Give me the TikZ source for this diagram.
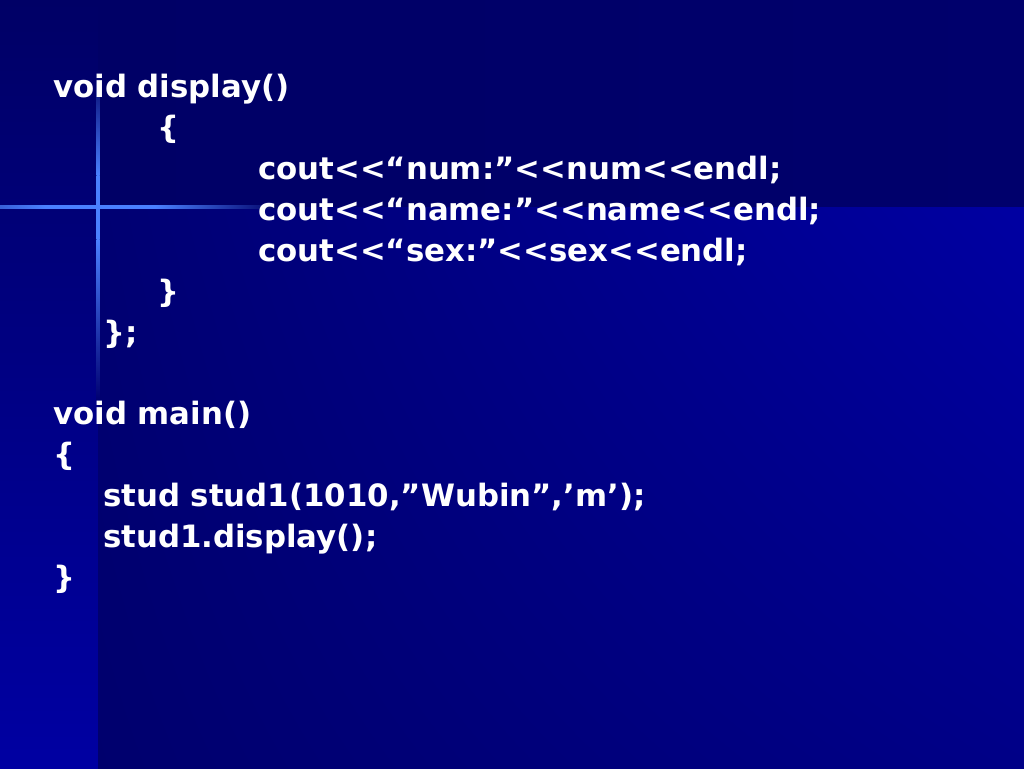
\documentclass[tikz,border=0pt]{standalone}
\usepackage{fontspec}
\newfontfamily\codefont{DejaVu Sans}
\usetikzlibrary{positioning,shadings}
\definecolor{bandnavy}{HTML}{000066}
\definecolor{stripblue}{HTML}{0000A2}
\definecolor{glowblue}{HTML}{4A80FF}
\tikzset{code line/.style={anchor=base west,inner sep=0pt,text=white,font=\codefont\bfseries\fontsize{30.8}{36}\selectfont},}

\begin{document}
\begin{tikzpicture}[x=1pt,y=-1pt]
    \useasboundingbox (0,0) rectangle (1024,768);
    % background panels
    \shade[top color=bandnavy,bottom color=stripblue] (0,0) rectangle (98,768);
    \shade[left color=bandnavy,right color=bandnavy!90!stripblue] (98,0) rectangle (1024,207);
    \shade[upper left=bandnavy!80!stripblue,upper right=stripblue,lower left=bandnavy!88!stripblue,lower right=bandnavy!45!stripblue] (98,207) rectangle (1024,768);
    % glowing cross
    \shade[top color=bandnavy,bottom color=glowblue] (96.5,70) rectangle (99.5,175);
    \shade[top color=glowblue,middle color=white,bottom color=glowblue] (96.5,175) rectangle (99.5,239);
    \shade[top color=glowblue,bottom color=bandnavy!80!stripblue] (96.5,239) rectangle (99.5,400);
    \shade[left color=glowblue!75!bandnavy,right color=glowblue] (0,205.5) rectangle (45,208.5);
    \shade[left color=glowblue,middle color=white,right color=glowblue] (45,205.5) rectangle (155,208.5);
    \shade[left color=glowblue,right color=bandnavy] (155,205.5) rectangle (280,208.5);

    % code
    \node[code line] (l0) at (53,97) {void display()};
    \node[code line] (l1) at (157,138) {\{};
    \node[code line] (l2) at (258,179) {cout<<“num:”<<num<<endl;};
    \node[code line] (l3) at (258,220) {cout<<“name:”<<name<<endl;};
    \node[code line] (l4) at (258,261) {cout<<“sex:”<<sex<<endl;};
    \node[code line] (l5) at (157,302) {\}};
    \node[code line] (l6) at (103,343) {\};};
    \node[code line] (m0) at (53,424) {void main()};
    \node[code line] (m1) at (53,465) {\{};
    \node[code line] (m2) at (103,506) {stud stud1(1010,”Wubin”,’m’);};
    \node[code line] (m3) at (103,547) {stud1.display();};
    \node[code line] (m4) at (53,588) {\}};
\end{tikzpicture}
\end{document}
